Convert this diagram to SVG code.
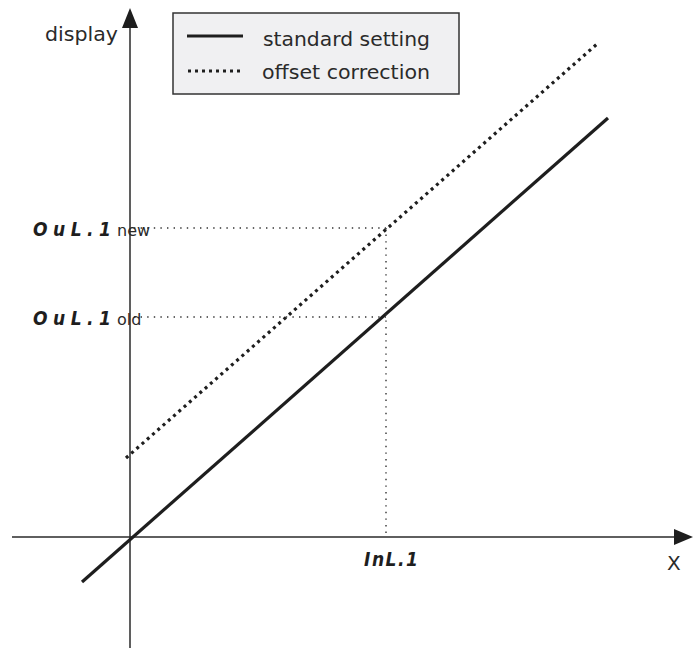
<svg xmlns="http://www.w3.org/2000/svg" width="700" height="648" viewBox="0 0 700 648">
<style>
.axis{stroke:#2a2a2a;stroke-width:1.5;fill:none}
.solid{stroke:#1e1e1e;stroke-width:3.2;fill:none}
.dotted{stroke:#1e1e1e;stroke-width:3.2;fill:none;stroke-dasharray:3 4}
.ref{stroke:#333;stroke-width:1.4;fill:none;stroke-dasharray:1.4 5.2}
.lbl{font-family:"DejaVu Sans","Liberation Sans",sans-serif;fill:#2a2a2a}
.seg{font-family:"DejaVu Sans","Liberation Sans",sans-serif;font-stretch:condensed;font-weight:bold;fill:#1e1e1e;font-style:italic}
</style>
<g id="connectors">
<line class="axis" x1="130" y1="648" x2="130" y2="24"/>
<polygon points="130,8 122,28 138,28" fill="#1e1e1e"/>
<line class="axis" x1="12" y1="537" x2="678" y2="537"/>
<polygon points="693,537 674,529 674,545" fill="#1e1e1e"/>
<line class="solid" x1="82" y1="582" x2="608" y2="118"/>
<line class="dotted" x1="126" y1="458" x2="597" y2="44"/>
<line class="ref" x1="134" y1="228" x2="386" y2="228"/>
<line class="ref" x1="134" y1="317" x2="386" y2="317"/>
<line class="ref" x1="386" y1="228" x2="386" y2="537"/>
</g>
<g id="legend">
<rect x="173" y="13" width="286" height="81" fill="#f0f0f2" stroke="#333" stroke-width="1.5"/>
<line x1="187" y1="36" x2="243" y2="36" stroke="#1e1e1e" stroke-width="3"/>
<line x1="188" y1="71" x2="243" y2="71" stroke="#1e1e1e" stroke-width="3" stroke-dasharray="3 4"/>
<text class="lbl" x="263" y="46" font-size="20" textLength="167" lengthAdjust="spacingAndGlyphs">standard setting</text>
<text class="lbl" x="262" y="79" font-size="20" textLength="168" lengthAdjust="spacingAndGlyphs">offset correction</text>
</g>
<g id="y-label"><text class="lbl" x="45" y="41" font-size="20" textLength="73" lengthAdjust="spacingAndGlyphs">display</text></g>
<g id="x-label"><text class="lbl" x="667" y="570" font-size="20">X</text></g>
<g id="out-new">
<text class="seg" x="33" y="236" font-size="19" textLength="78" lengthAdjust="spacing">OuL.1</text>
<text class="lbl" x="117" y="236" font-size="16">new</text>
</g>
<g id="out-old">
<text class="seg" x="33" y="325" font-size="19" textLength="78" lengthAdjust="spacing">OuL.1</text>
<text class="lbl" x="117" y="325" font-size="16">old</text>
</g>
<g id="in-label">
<text class="seg" x="364" y="566" font-size="19" textLength="54" lengthAdjust="spacing">InL.1</text>
</g>
</svg>
